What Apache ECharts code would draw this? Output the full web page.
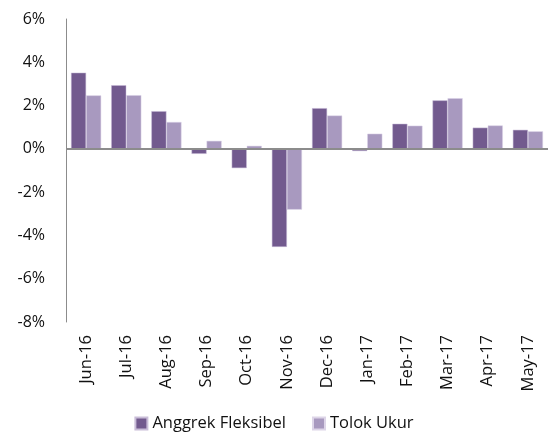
<!DOCTYPE html>
<html>
<head>
<meta charset="utf-8">
<script src="https://cdn.jsdelivr.net/npm/echarts@6/dist/echarts.min.js"></script>
<style>
html,body{margin:0;padding:0;background:#fff;}
#chart{width:548px;height:432px;}
</style>
</head>
<body>
<div id="chart"></div>
<script>
const categories = ['Jun-16','Jul-16','Aug-16','Sep-16','Oct-16','Nov-16','Dec-16','Jan-17','Feb-17','Mar-17','Apr-17','May-17'];
const anggrekFleksibel = [3.52, 2.94, 1.74, -0.23, -0.89, -4.53, 1.88, -0.10, 1.16, 2.24, 0.98, 0.88];
const tolokUkur = [2.47, 2.48, 1.24, 0.37, 0.14, -2.81, 1.54, 0.70, 1.07, 2.34, 1.08, 0.81];
const yTicks = [-8, -6, -4, -2, 0, 2, 4, 6];

const font = 'Open Sans';
const chart = echarts.init(document.getElementById('chart'), null, {renderer: 'canvas'});
chart.setOption({
  animation: false,
  backgroundColor: '#ffffff',
  textStyle: {fontFamily: font},
  grid: {left: 66, right: 0, top: 19, bottom: 110, containLabel: false},
  legend: {
    top: 410,
    left: 'center',
    itemWidth: 12,
    itemHeight: 12,
    itemGap: 26,
    icon: 'rect',
    textStyle: {fontFamily: font, fontSize: 16.5, color: '#111'},
    data: ['Anggrek Fleksibel', 'Tolok Ukur']
  },
  xAxis: {
    type: 'category',
    data: categories,
    axisLine: {show: false},
    axisTick: {show: false},
    axisLabel: {rotate: 90, fontSize: 16.5, color: '#111', fontFamily: font, margin: 13, interval: 0}
  },
  yAxis: {
    type: 'value',
    min: yTicks[0],
    max: yTicks[yTicks.length - 1],
    interval: 2,
    axisLine: {show: true, lineStyle: {color: '#8c8c8c', width: 1}},
    axisTick: {show: false},
    splitLine: {show: false},
    axisLabel: {formatter: '{value}%', fontSize: 16, color: '#111', fontFamily: font, margin: 21}
  },
  series: [
    {
      name: 'Anggrek Fleksibel',
      type: 'bar',
      data: anggrekFleksibel,
      barGap: '0%',
      barCategoryGap: '25%',
      itemStyle: {color: '#725a8e', borderColor: '#c9bdd8', borderWidth: 0.5},
      markLine: {
        silent: true,
        symbol: 'none',
        label: {show: false},
        lineStyle: {color: '#8c8c8c', width: 2, type: 'solid'},
        data: [{yAxis: 0}]
      }
    },
    {
      name: 'Tolok Ukur',
      type: 'bar',
      data: tolokUkur,
      barGap: '0%',
      barCategoryGap: '25%',
      itemStyle: {color: '#a899bf', borderColor: '#ddd5e8', borderWidth: 0.5}
    }
  ]
});
</script>
</body>
</html>
